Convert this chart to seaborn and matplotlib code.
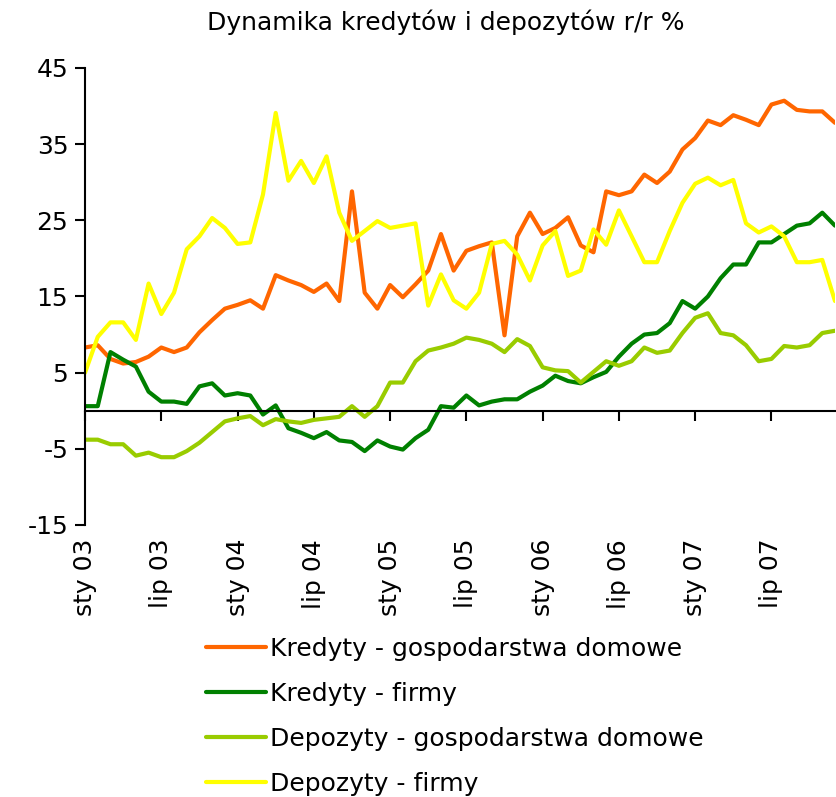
import numpy as np
import pandas as pd
import seaborn as sns
from matplotlib import pyplot as plt

# miesiace: sty 03 .. gru 07
tick_labels = ['sty 03', 'lip 03', 'sty 04', 'lip 04', 'sty 05',
               'lip 05', 'sty 06', 'lip 06', 'sty 07', 'lip 07']

kredyty_gd = [8.3, 8.6, 6.8, 6.2, 6.4, 7.1, 8.3, 7.7, 8.3, 10.3, 11.9, 13.4,
              13.9, 14.5, 13.4, 17.8, 17.1, 16.5, 15.6, 16.7, 14.4, 28.8, 15.5, 13.4,
              16.5, 14.9, 16.6, 18.4, 23.2, 18.4, 21.0, 21.6, 22.1, 9.9, 22.9, 26.0,
              23.2, 24.0, 25.4, 21.7, 20.8, 28.8, 28.3, 28.8, 31.0, 29.9, 31.4, 34.3,
              35.8, 38.1, 37.5, 38.8, 38.2, 37.5, 40.2, 40.7, 39.5, 39.3, 39.3, 37.8]

kredyty_firmy = [0.6, 0.6, 7.7, 6.7, 5.8, 2.5, 1.2, 1.2, 0.9, 3.2, 3.6, 2.0,
                 2.3, 2.0, -0.5, 0.7, -2.3, -2.9, -3.6, -2.8, -3.9, -4.1, -5.3, -3.9,
                 -4.7, -5.1, -3.6, -2.5, 0.6, 0.4, 2.0, 0.7, 1.2, 1.5, 1.5, 2.5,
                 3.3, 4.6, 3.9, 3.6, 4.4, 5.1, 7.1, 8.8, 10.0, 10.2, 11.5, 14.4,
                 13.4, 15.0, 17.4, 19.2, 19.2, 22.1, 22.1, 23.2, 24.3, 24.6, 26.0, 24.3]

depozyty_gd = [-3.8, -3.8, -4.4, -4.4, -5.9, -5.5, -6.1, -6.1, -5.3, -4.2, -2.8, -1.4,
               -1.0, -0.7, -1.9, -1.1, -1.4, -1.6, -1.2, -1.0, -0.8, 0.6, -0.8, 0.6,
               3.7, 3.7, 6.5, 7.9, 8.3, 8.8, 9.6, 9.3, 8.8, 7.7, 9.4, 8.5,
               5.7, 5.3, 5.2, 3.7, 5.1, 6.5, 5.9, 6.5, 8.3, 7.6, 7.9, 10.2,
               12.2, 12.8, 10.2, 9.9, 8.6, 6.5, 6.8, 8.5, 8.3, 8.6, 10.2, 10.5]

depozyty_firmy = [5.0, 9.7, 11.6, 11.6, 9.3, 16.7, 12.7, 15.5, 21.2, 22.9, 25.3, 24.0,
                  21.9, 22.1, 28.4, 39.1, 30.2, 32.8, 29.9, 33.4, 26.0, 22.3, 23.6, 24.9,
                  24.0, 24.3, 24.6, 13.8, 17.9, 14.5, 13.4, 15.5, 21.9, 22.3, 20.5, 17.1,
                  21.7, 23.6, 17.7, 18.4, 23.8, 21.8, 26.3, 22.9, 19.5, 19.5, 23.6, 27.3,
                  29.8, 30.6, 29.6, 30.3, 24.6, 23.4, 24.2, 22.9, 19.5, 19.5, 19.8, 14.4]

names = ['Kredyty - gospodarstwa domowe', 'Kredyty - firmy',
         'Depozyty - gospodarstwa domowe', 'Depozyty - firmy']
colors = ['#FF6600', '#008000', '#99CC00', '#FFFF00']

series = [kredyty_gd, kredyty_firmy, depozyty_gd, depozyty_firmy]
frames = []
for name, vals in zip(names, series):
    frames.append(pd.DataFrame({'miesiac': np.arange(len(vals)), 'wartosc': vals, 'seria': name}))
df = pd.concat(frames, ignore_index=True)

sns.set_style('white')
plt.rcParams['font.family'] = ['DejaVu Sans']
plt.rcParams['axes.unicode_minus'] = False
plt.rcParams['text.color'] = 'black'
plt.rcParams['xtick.color'] = 'black'
plt.rcParams['ytick.color'] = 'black'

fs = 18

fig = plt.figure(figsize=(8.37, 7.97), dpi=100)
ax = fig.add_axes([0.1016, 0.3413, 0.896, 0.5734])

sns.lineplot(data=df, x='miesiac', y='wartosc', hue='seria', hue_order=names,
             palette=dict(zip(names, colors)), linewidth=3.0, ax=ax)

handles, labels = ax.get_legend_handles_labels()
ax.get_legend().remove()

ax.set_xlim(0, 59)
ax.set_ylim(-15, 45)
ax.set_yticks([-15, -5, 5, 15, 25, 35, 45])
ax.set_xlabel('')
ax.set_ylabel('')

ax.spines['top'].set_visible(False)
ax.spines['right'].set_visible(False)
ax.spines['left'].set_color('black')
ax.spines['left'].set_linewidth(1.5)
ax.spines['bottom'].set_position(('data', 0))
ax.spines['bottom'].set_color('black')
ax.spines['bottom'].set_linewidth(1.5)

ax.set_xticks(np.arange(0, 60, 6))
ax.set_xticklabels([])
ax.tick_params(axis='x', bottom=True, direction='out', length=7, width=1.5, color='black')
ax.tick_params(axis='y', left=True, direction='out', length=7, width=1.5, color='black',
               labelsize=fs, labelcolor='black', pad=5)

sec = ax.secondary_xaxis(0)
sec.set_xticks(np.arange(0, 60, 6))
sec.set_xticklabels(tick_labels, rotation=90, fontsize=fs, color='black')
sec.tick_params(bottom=False, length=0, pad=10)
sec.spines['bottom'].set_visible(False)

fig.suptitle('Dynamika kredytów i depozytów r/r %', fontsize=fs, color='black',
             x=0.532, y=0.988)

fig.legend(handles, labels, loc='upper left', bbox_to_anchor=(0.234, 0.213),
           frameon=False, fontsize=fs, handlelength=2.4, handletextpad=0.15,
           labelspacing=0.84, borderaxespad=0, labelcolor='black')

fig.savefig('out.png', dpi=100)
